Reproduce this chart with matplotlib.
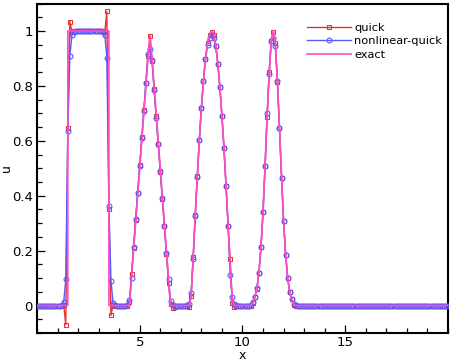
import numpy as np
import matplotlib
matplotlib.use('Agg')
import matplotlib.pyplot as plt
from matplotlib.ticker import MultipleLocator

# grid nodes 0..20, dx = 0.1
x_nodes = np.round(np.arange(201) * 0.1, 1)

# values for x = 1.0 .. 12.9 (one row per unit of x)
quick_mid = [
    0, 0, 0, 0.002, -0.07, 0.645, 1.034, 0.995, 1.0, 1.0,
    1.0, 1.0, 1.0, 1.0, 1.0, 1.0, 1.0, 1.0, 1.0, 1.0,
    1.0, 1.0, 1.0, 0.995, 1.071, 0.351, -0.036, 0.003, -0.002, 0,
    0, 0, 0, 0, -0.002, 0.012, 0.115, 0.21, 0.31, 0.41,
    0.51, 0.612, 0.711, 0.812, 0.91, 0.98, 0.889, 0.79, 0.69, 0.59,
    0.487, 0.387, 0.288, 0.188, 0.082, 0.004, -0.008, -0.004, 0, 0,
    0, 0, 0, 0, -0.005, 0.035, 0.175, 0.33, 0.47, 0.603,
    0.72, 0.818, 0.899, 0.955, 0.985, 0.998, 0.985, 0.947, 0.881, 0.796,
    0.691, 0.572, 0.437, 0.29, 0.17, 0.01, -0.006, -0.003, 0, 0,
    0, 0, 0, 0, 0, 0.01, 0.03, 0.061, 0.119, 0.212,
    0.342, 0.508, 0.687, 0.85, 0.965, 0.998, 0.955, 0.815, 0.645, 0.463,
    0.307, 0.185, 0.10, 0.048, 0.022, 0.002, 0, 0, 0, 0,
]
nonlin_mid = [
    0, 0, 0.002, 0.012, 0.095, 0.635, 0.909, 0.986, 0.997, 1.0,
    1.0, 1.0, 1.0, 1.0, 1.0, 1.0, 1.0, 1.0, 1.0, 1.0,
    1.0, 1.0, 0.997, 0.986, 0.903, 0.363, 0.091, 0.01, 0.002, 0,
    0, 0, 0, 0, 0.002, 0.02, 0.10, 0.212, 0.315, 0.409,
    0.509, 0.61, 0.71, 0.81, 0.917, 0.935, 0.895, 0.784, 0.683, 0.587,
    0.49, 0.39, 0.29, 0.19, 0.095, 0.018, 0.003, 0, 0, 0,
    0, 0, 0, 0.001, 0.006, 0.045, 0.17, 0.325, 0.469, 0.603,
    0.72, 0.818, 0.899, 0.95, 0.975, 0.985, 0.975, 0.945, 0.881, 0.796,
    0.691, 0.572, 0.437, 0.29, 0.112, 0.03, 0.005, 0.001, 0, 0,
    0, 0, 0, 0, 0.002, 0.012, 0.032, 0.063, 0.12, 0.212,
    0.342, 0.508, 0.70, 0.845, 0.963, 0.975, 0.945, 0.818, 0.645, 0.463,
    0.307, 0.185, 0.10, 0.048, 0.024, 0.006, 0.001, 0, 0, 0,
]
# exact solution: square wave as jumps, smooth parts sampled on the nodes from x = 4.0
square_x = [0.0, 1.5, 1.5, 3.5, 3.5]
square_u = [0.0, 0.0, 1.0, 1.0, 0.0]
exact_mid = [
    0, 0, 0, 0, 0, 0, 0.1, 0.2, 0.3, 0.4,
    0.5, 0.6, 0.7, 0.8, 0.9, 0.985, 0.9, 0.8, 0.7, 0.6,
    0.5, 0.4, 0.3, 0.2, 0.1, 0, 0, 0, 0, 0,
    0, 0, 0, 0, 0, 0.03, 0.173, 0.328, 0.469, 0.603,
    0.72, 0.818, 0.899, 0.953, 0.99, 1.0, 0.99, 0.947, 0.881, 0.796,
    0.691, 0.572, 0.437, 0.29, 0.15, 0.03, 0, 0, 0, 0,
    0, 0, 0, 0, 0, 0.01, 0.03, 0.061, 0.119, 0.212,
    0.342, 0.508, 0.69, 0.85, 0.963, 1.0, 0.95, 0.818, 0.645, 0.463,
    0.307, 0.185, 0.10, 0.048, 0.022, 0.003, 0, 0, 0, 0,
]

# flat zero parts on both ends
u_quick = np.array([0] * 10 + quick_mid + [0] * 71, dtype=float)
u_nonlin = np.array([0] * 10 + nonlin_mid + [0] * 71, dtype=float)
exact_x = np.concatenate([square_x, x_nodes[40:]])
exact_u = np.concatenate([square_u, np.array(exact_mid + [0] * 71, dtype=float)])

fig = plt.figure(figsize=(4.5, 3.61), dpi=100)
ax = fig.add_axes([0.0822, 0.0776, 0.9133, 0.9127])

ax.plot(x_nodes, u_quick, color='#e83232', lw=1.0, marker='s', ms=3.5,
        mfc='none', mew=0.8, label='quick', zorder=2)
ax.plot(x_nodes, u_nonlin, color='#5a5aff', lw=1.0, marker='o', ms=3.5,
        mfc='none', mew=0.8, label='nonlinear-quick', zorder=3)
ax.plot(exact_x, exact_u, color='#ff4ec4', lw=1.2, label='exact', zorder=4)

ax.set_xlim(0, 20)
ax.set_ylim(-0.1, 1.1)
ax.xaxis.set_minor_locator(MultipleLocator(1))
ax.yaxis.set_minor_locator(MultipleLocator(0.05))
ax.set_xticks([5, 10, 15])
ax.set_xticklabels(['5', '10', '15'])
ax.set_yticks([0, 0.2, 0.4, 0.6, 0.8, 1.0])
ax.set_yticklabels(['0', '0.2', '0.4', '0.6', '0.8', '1'])
ax.tick_params(which='both', direction='in', top=False, right=False,
               labelsize=9.5, width=0.9)
ax.tick_params(axis='x', pad=2)
ax.tick_params(axis='y', pad=3)
ax.tick_params(which='major', length=6)
ax.tick_params(which='minor', length=3.8)
for s in ax.spines.values():
    s.set_linewidth(1.5)

ax.set_xlabel('x', fontsize=9)
ax.set_ylabel('u', fontsize=9)
ax.xaxis.set_label_coords(0.5, -0.05)
ax.yaxis.set_label_coords(-0.058, 0.5)

ax.legend(loc='upper left', bbox_to_anchor=(296 / 450, 1 - 21 / 361),
          frameon=False, fontsize=8.2, handlelength=3.8, handletextpad=0.3,
          labelspacing=0.3, borderpad=0, borderaxespad=0)

fig.savefig('out.png', dpi=100)
